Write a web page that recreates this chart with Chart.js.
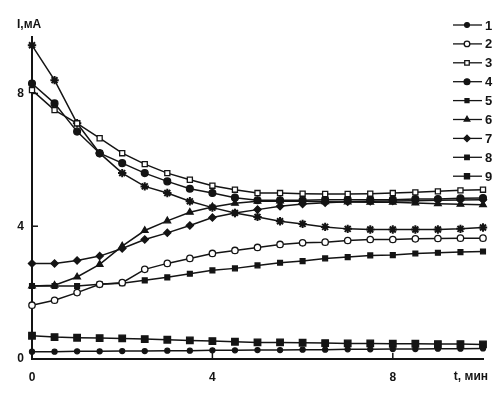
<!DOCTYPE html>
<html>
<head>
<meta charset="utf-8">
<script src="https://cdn.jsdelivr.net/npm/chart.js@4.4.1/dist/chart.umd.min.js"></script>
<style>
  html, body { margin: 0; padding: 0; background: #fff; }
  #wrap { width: 499px; height: 406px; }
</style>
</head>
<body>
<div id="wrap"><canvas id="chart"></canvas></div>
<script>
// time, min
const times = [0, 0.5, 1, 1.5, 2, 2.5, 3, 3.5, 4, 4.5, 5, 5.5, 6, 6.5, 7, 7.5, 8, 8.5, 9, 9.5, 10];

// current, mA
const s1 = [0.22, 0.22, 0.23, 0.23, 0.24, 0.24, 0.25, 0.25, 0.26, 0.26, 0.27, 0.27, 0.28, 0.28, 0.29, 0.29, 0.30, 0.30, 0.31, 0.31, 0.32];
const s2 = [1.62, 1.77, 2.0, 2.25, 2.3, 2.7, 2.88, 3.03, 3.18, 3.27, 3.36, 3.45, 3.5, 3.52, 3.57, 3.6, 3.6, 3.62, 3.63, 3.64, 3.64];
const s3 = [8.1, 7.5, 7.1, 6.65, 6.2, 5.87, 5.6, 5.4, 5.22, 5.1, 5.0, 5.0, 4.98, 4.97, 4.97, 4.98, 5.0, 5.02, 5.05, 5.08, 5.1];
const s4 = [8.3, 7.7, 6.85, 6.2, 5.9, 5.6, 5.35, 5.13, 5.0, 4.86, 4.78, 4.78, 4.78, 4.8, 4.8, 4.8, 4.8, 4.82, 4.82, 4.84, 4.85];
const s5 = [9.45, 8.4, 7.1, 6.2, 5.6, 5.2, 5.0, 4.75, 4.56, 4.4, 4.28, 4.15, 4.07, 3.98, 3.92, 3.9, 3.9, 3.9, 3.9, 3.92, 3.96];
const s6 = [2.2, 2.22, 2.47, 2.85, 3.4, 3.87, 4.16, 4.42, 4.58, 4.69, 4.75, 4.76, 4.75, 4.74, 4.73, 4.72, 4.72, 4.7, 4.68, 4.66, 4.65];
const s7 = [2.88, 2.88, 2.97, 3.1, 3.33, 3.6, 3.8, 4.02, 4.26, 4.4, 4.5, 4.6, 4.67, 4.71, 4.74, 4.75, 4.76, 4.77, 4.78, 4.79, 4.8];
const s8 = [2.2, 2.2, 2.2, 2.25, 2.28, 2.37, 2.46, 2.57, 2.67, 2.73, 2.82, 2.9, 2.95, 3.03, 3.07, 3.12, 3.13, 3.18, 3.2, 3.22, 3.24];
const s9 = [0.7, 0.66, 0.64, 0.63, 0.62, 0.6, 0.58, 0.56, 0.54, 0.52, 0.5, 0.5, 0.49, 0.48, 0.47, 0.47, 0.46, 0.46, 0.45, 0.45, 0.44];

const seriesNames = ["1", "2", "3", "4", "5", "6", "7", "8", "9"];
const seriesValues = [s1, s2, s3, s4, s5, s6, s7, s8, s9];
const xTicks = [0, 4, 8];
const yTicks = [0, 4, 8];

const ink = "#141414";
const looks = [
  { style: "circle", r: 2.5, open: false, key: "circle", kr: 2.4 },
  { style: "circle", r: 3.2, open: true, key: "circle", kr: 2.8 },
  { style: "rect", r: 3.6, open: true, key: "rect", kr: 3.2 },
  { style: "circle", r: 3.4, open: false, key: "circle", kr: 2.9 },
  { style: "star", r: 4.2, open: false, key: "rect", kr: 2.8 },
  { style: "triangle", r: 3.8, open: false, key: "triangle", kr: 3.2 },
  { style: "rectRot", r: 3.6, open: false, key: "rectRot", kr: 3.2 },
  { style: "rect", r: 3.4, open: false, key: "rect", kr: 3.2 },
  { style: "rect", r: 4.6, open: false, key: "rect", kr: 3.6 }
];

const datasets = seriesValues.map((vals, i) => ({
  label: seriesNames[i],
  data: vals.map((v, k) => ({ x: times[k], y: v })),
  borderColor: ink,
  borderWidth: 1.5,
  pointStyle: looks[i].style,
  pointRadius: looks[i].r,
  pointBorderWidth: looks[i].style === "star" ? 2 : 1.3,
  pointBorderColor: ink,
  pointBackgroundColor: looks[i].open ? "#fff" : ink,
  tension: 0,
  clip: false
}));

const font = { family: "Arial, 'Liberation Sans', sans-serif", size: 12, weight: "bold" };

const extras = {
  id: "extras",
  afterDraw(chart) {
    const ctx = chart.ctx;
    const xs = chart.scales.x, ys = chart.scales.y;
    ctx.save();
    // inward tick marks
    ctx.strokeStyle = ink;
    ctx.lineWidth = 1.5;
    xTicks.slice(1).forEach(v => {
      const p = xs.getPixelForValue(v);
      ctx.beginPath(); ctx.moveTo(p, ys.bottom); ctx.lineTo(p, ys.bottom - 6); ctx.stroke();
    });
    yTicks.slice(1).forEach(v => {
      const p = ys.getPixelForValue(v);
      ctx.beginPath(); ctx.moveTo(xs.left, p); ctx.lineTo(xs.left + 6, p); ctx.stroke();
    });
    // axis titles
    ctx.fillStyle = ink;
    ctx.font = "bold 12px Arial, 'Liberation Sans', sans-serif";
    ctx.textBaseline = "middle";
    ctx.textAlign = "left";
    ctx.fillText("I,мА", 17, 25);
    ctx.textAlign = "right";
    ctx.fillText("t, мин", 488, 377);
    // legend
    ctx.font = "bold 13px Arial, 'Liberation Sans', sans-serif";
    ctx.textAlign = "left";
    chart.data.datasets.forEach((ds, i) => {
      const y = 25 + i * 18.9;
      ctx.strokeStyle = ink;
      ctx.lineWidth = 1.3;
      ctx.beginPath(); ctx.moveTo(453, y); ctx.lineTo(482, y); ctx.stroke();
      ctx.fillStyle = ds.pointBackgroundColor;
      ctx.strokeStyle = ink;
      ctx.lineWidth = 1.3;
      Chart.helpers.drawPoint(ctx, {
        pointStyle: looks[i].key,
        radius: looks[i].kr,
        rotation: 0,
        borderWidth: 1.3
      }, 467, y);
      ctx.fillStyle = ink;
      ctx.fillText(ds.label, 485, y + 1);
    });
    ctx.restore();
  }
};

new Chart(document.getElementById("chart"), {
  type: "line",
  data: { datasets },
  options: {
    responsive: true,
    maintainAspectRatio: false,
    animation: false,
    devicePixelRatio: 1,
    layout: { padding: { top: 37, right: 16, left: 0, bottom: 0 } },
    plugins: { legend: { display: false }, tooltip: { enabled: false } },
    scales: {
      x: {
        type: "linear",
        min: 0,
        max: 10,
        afterBuildTicks: s => { s.ticks = xTicks.map(v => ({ value: v })); },
        afterFit: s => { s.height = 47; },
        grid: { drawOnChartArea: false, drawTicks: false },
        border: { color: ink, width: 2 },
        ticks: { padding: 11, color: ink, font, maxRotation: 0 }
      },
      y: {
        min: 0,
        max: 9.7,
        afterBuildTicks: s => { s.ticks = yTicks.map(v => ({ value: v })); },
        afterFit: s => { s.width = 32; },
        grid: { drawOnChartArea: false, drawTicks: false },
        border: { color: ink, width: 2 },
        ticks: { padding: 8, color: ink, font }
      }
    }
  },
  plugins: [extras]
});
</script>
</body>
</html>
